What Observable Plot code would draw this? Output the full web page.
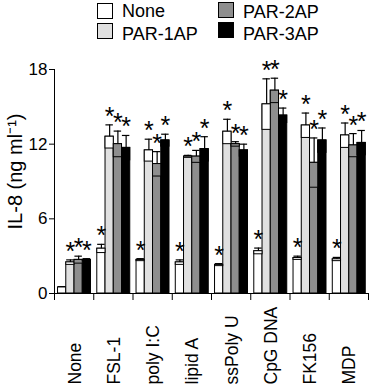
<!DOCTYPE html>
<html>
<head>
<meta charset="utf-8">
<script src="https://cdn.jsdelivr.net/npm/d3@7"></script>
<script src="https://cdn.jsdelivr.net/npm/@observablehq/plot@0.6"></script>
<style>
  html, body { margin: 0; padding: 0; background: white; }
  #wrap { position: relative; width: 371px; height: 387px; font-family: "Liberation Sans", Arial, sans-serif; }
  #legend { position: relative; height: 45px; }
  .sw { position: absolute; width: 16px; height: 16px; box-sizing: border-box; border: 1px solid #000; }
  .lt { position: absolute; font-size: 18px; line-height: 18px; color: #000; white-space: nowrap; }
  #chart svg { display: block; }
</style>
</head>
<body>
<div id="wrap">
  <div id="legend"></div>
  <div id="chart"></div>
</div>
<script>
// ---- data ----
const categories = ["None", "FSL-1", "poly I:C", "lipid A", "ssPoly U", "CpG DNA", "FK156", "MDP"];
const series = ["None", "PAR-1AP", "PAR-2AP", "PAR-3AP"];
const colors = ["#ffffff", "#e0e0e0", "#8e8e8e", "#000000"];

const meanNone = [0.5, 3.6, 2.7, 2.5, 2.3, 3.4, 2.85, 2.75];
const meanPar1 = [2.5, 12.6, 11.5, 11.0, 13.0, 15.2, 13.5, 12.7];
const meanPar2 = [2.7, 12.0, 10.4, 11.0, 12.0, 16.3, 10.5, 11.9];
const meanPar3 = [2.7, 11.7, 12.3, 11.6, 11.5, 14.3, 12.3, 12.1];

const sdNone = [0.05, 0.35, 0.1, 0.2, 0.1, 0.25, 0.15, 0.15];
const sdPar1 = [0.2, 0.95, 0.9, 0.1, 1.0, 2.05, 1.0, 1.0];
const sdPar2 = [0.3, 1.05, 1.0, 0.5, 0.2, 1.0, 2.0, 0.95];
const sdPar3 = [0.1, 1.0, 0.5, 1.0, 0.5, 0.6, 1.0, 1.0];

// significance asterisks (true = marked)
const starNone = [false, true, true, true, true, true, true, true];
const starPar1 = [true, true, true, true, true, true, true, true];
const starPar2 = [true, true, true, true, true, true, true, true];
const starPar3 = [true, true, true, true, true, true, true, true];

const yTicks = [0, 6, 12, 18];
const yLabel = "IL-8 (ng ml\u207B\u00B9)";

// ---- table ----
const means = [meanNone, meanPar1, meanPar2, meanPar3];
const sds = [sdNone, sdPar1, sdPar2, sdPar3];
const stars = [starNone, starPar1, starPar2, starPar3];
const off = 0.09, bw = 0.21;
const rows = [];
categories.forEach((c, i) => series.forEach((s, j) => {
  rows.push({cat: c, ci: i, s, sj: j, mean: means[j][i], sd: sds[j][i], star: stars[j][i]});
}));
const X1 = d => d.ci + off + d.sj * bw;
const X2 = d => d.ci + off + (d.sj + 1) * bw;
const XC = d => d.ci + off + (d.sj + 0.5) * bw;

// ---- legend ----
const legend = document.getElementById("legend");
const legPos = [[97, 3, 122, 2], [97, 23, 122, 24.5], [218, 2, 243, 3], [218, 22, 243, 25]];
series.forEach((s, j) => {
  const [sx, sy, tx, ty] = legPos[j];
  const sw = document.createElement("div");
  sw.className = "sw"; sw.style.left = sx + "px"; sw.style.top = sy + "px"; sw.style.background = colors[j];
  legend.appendChild(sw);
  const t = document.createElement("div");
  t.className = "lt"; t.style.left = tx + "px"; t.style.top = ty + "px"; t.textContent = s;
  legend.appendChild(t);
});

// ---- chart ----
const fillOf = d => colors[d.sj];
const boxFill = d => d.sj < 2 ? "#ffffff" : colors[d.sj];

const chart = Plot.plot({
  width: 371,
  height: 342,
  marginLeft: 54,
  marginRight: 3,
  marginTop: 24,
  marginBottom: 94,
  x: {domain: [0, categories.length], axis: null},
  y: {domain: [0, 18], axis: null},
  style: {fontFamily: "'Liberation Sans', Arial, sans-serif", fontSize: "17px", background: "white", color: "black"},
  marks: [
    Plot.rectY(rows, {x1: X1, x2: X2, y1: 0, y2: "mean", fill: fillOf, stroke: "black", strokeWidth: 1}),
    Plot.rectY(rows.filter(d => d.sd > 0.08), {x1: X1, x2: X2, y1: d => d.mean - d.sd, y2: "mean", fill: boxFill, stroke: "black", strokeWidth: 1}),
    Plot.ruleX(rows, {x: XC, y1: "mean", y2: d => d.mean + d.sd, stroke: "black", strokeWidth: 1.2}),
    Plot.ruleY(rows, {y: d => d.mean + d.sd, x1: d => X1(d) + 0.01, x2: d => X2(d) - 0.01, stroke: "black", strokeWidth: 1.2}),
    Plot.text(rows.filter(d => d.star), {x: XC, y: d => d.mean + d.sd, text: () => "*", fontSize: 25, lineAnchor: "middle", dy: -8}),
    Plot.ruleY([0], {stroke: "black"}),
    Plot.ruleX([0], {y1: 0, y2: 18, stroke: "black"}),
    Plot.axisY({ticks: yTicks, tickSize: 5, tickPadding: 2, fontSize: 17, label: null}),
    Plot.axisX({ticks: d3.range(0, categories.length + 1), tickSize: 7, tickFormat: () => "", label: null}),
    Plot.text(categories, {x: (d, i) => i + 0.5, frameAnchor: "bottom", dy: 91, dx: 1, rotate: -90, textAnchor: "start", lineAnchor: "middle", fontSize: 17.5}),
    Plot.text([yLabel], {frameAnchor: "left", dx: -47, dy: -10, rotate: -90, textAnchor: "middle", lineAnchor: "top", fontSize: 20})
  ]
});
document.getElementById("chart").appendChild(chart);
</script>
</body>
</html>
